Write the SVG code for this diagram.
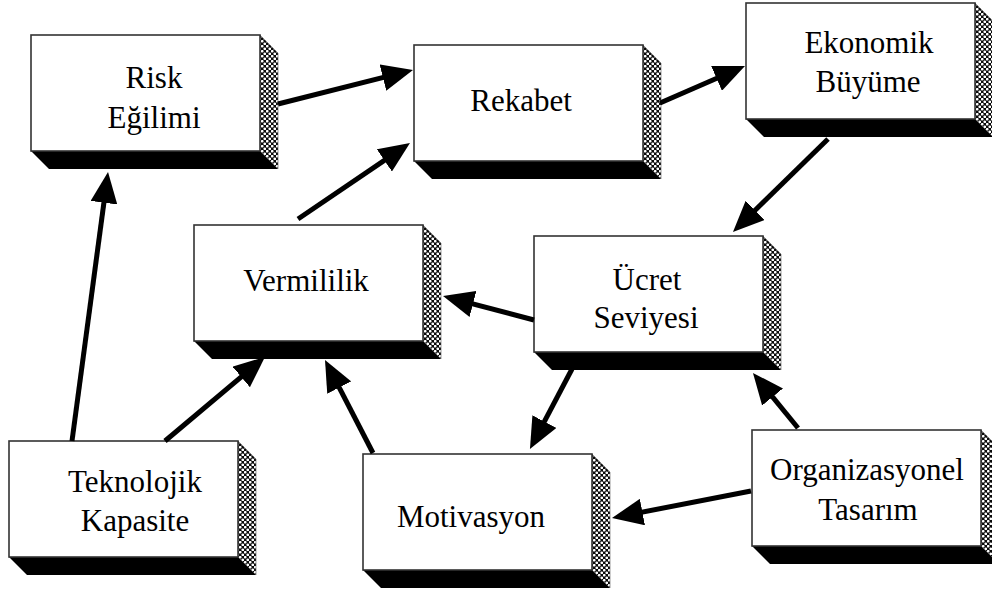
<svg xmlns="http://www.w3.org/2000/svg" xmlns:xlink="http://www.w3.org/1999/xlink" width="992" height="592" viewBox="0 0 992 592">
  <style>
    .face { fill: #ffffff; stroke: #333333; stroke-width: 1.6; }
    .bottom { fill: #000000; }
    .side { fill: url(#dots); stroke: #555555; stroke-width: 0.6; }
    .label { font-family: "Liberation Serif", "Times New Roman", serif; font-size: 31px; fill: #000000; text-anchor: middle; }
    .arrow { stroke: #000000; stroke-width: 5; fill: none; marker-end: url(#head); }
  </style>
  <defs>
    <!-- halftone shading for the right-hand face of the boxes -->
    <pattern id="dots" width="5" height="5" patternUnits="userSpaceOnUse">
      <rect width="5" height="5" fill="#0a0a0a"/>
      <circle cx="1.25" cy="1.25" r="1.35" fill="#ffffff"/>
      <circle cx="3.75" cy="3.75" r="1.35" fill="#ffffff"/>
    </pattern>
    <!-- solid triangular arrowhead -->
    <marker id="head" markerUnits="userSpaceOnUse" markerWidth="31" markerHeight="27" refX="21" refY="13.5" orient="auto" viewBox="0 0 31 27">
      <path d="M0,0 L31,13.5 L0,27 Z" fill="#000000"/>
    </marker>
    <!-- extruded box: front face 229x116, depth 18 -->
    <g id="box3d">
      <polygon class="bottom" points="0,116 229,116 247,134 18,134"/>
      <polygon class="side" points="229,0 247,18 247,134 229,116"/>
      <rect class="face" x="0" y="0" width="229" height="116"/>
    </g>
  </defs>

  <g id="nodes">
    <g id="risk-egilimi">
      <use xlink:href="#box3d" transform="translate(31,35)"/>
      <text class="label" x="154" y="88">Risk</text>
      <text class="label" x="154" y="128">Eğilimi</text>
    </g>
    <g id="rekabet">
      <use xlink:href="#box3d" transform="translate(414,45)"/>
      <text class="label" x="521" y="111">Rekabet</text>
    </g>
    <g id="ekonomik-buyume">
      <use xlink:href="#box3d" transform="translate(746,3)"/>
      <text class="label" x="869" y="53">Ekonomik</text>
      <text class="label" x="868" y="92">Büyüme</text>
    </g>
    <g id="vermililik">
      <use xlink:href="#box3d" transform="translate(194,225)"/>
      <text class="label" x="306" y="291">Vermililik</text>
    </g>
    <g id="ucret-seviyesi">
      <use xlink:href="#box3d" transform="translate(534,236)"/>
      <text class="label" x="647" y="290">Ücret</text>
      <text class="label" x="646" y="328">Seviyesi</text>
    </g>
    <g id="teknolojik-kapasite">
      <use xlink:href="#box3d" transform="translate(9,441)"/>
      <text class="label" x="135" y="492">Teknolojik</text>
      <text class="label" x="135" y="531">Kapasite</text>
    </g>
    <g id="motivasyon">
      <use xlink:href="#box3d" transform="translate(363,454)"/>
      <text class="label" x="471" y="527">Motivasyon</text>
    </g>
    <g id="organizasyonel-tasarim">
      <use xlink:href="#box3d" transform="translate(752,430)"/>
      <text class="label" x="867" y="480">Organizasyonel</text>
      <text class="label" x="868" y="520">Tasarım</text>
    </g>
  </g>

  <g id="connectors">
    <!-- Risk Eğilimi -> Rekabet -->
    <line class="arrow" x1="278" y1="104" x2="403.3" y2="72.4"/>
    <!-- Vermililik -> Rekabet -->
    <line class="arrow" x1="298" y1="219" x2="401.7" y2="148.6"/>
    <!-- Rekabet -> Ekonomik Büyüme -->
    <line class="arrow" x1="660" y1="103" x2="735.8" y2="70.0"/>
    <!-- Ekonomik Büyüme -> Ücret Seviyesi -->
    <line class="arrow" x1="828" y1="139" x2="740.1" y2="225.0"/>
    <!-- Ücret Seviyesi -> Vermililik -->
    <line class="arrow" x1="534" y1="320" x2="452.7" y2="298.6"/>
    <!-- Ücret Seviyesi -> Motivasyon -->
    <line class="arrow" x1="572" y1="369" x2="534.6" y2="440.2"/>
    <!-- Organizasyonel Tasarım -> Ücret Seviyesi -->
    <line class="arrow" x1="798" y1="428" x2="759.3" y2="380.7"/>
    <!-- Organizasyonel Tasarım -> Motivasyon -->
    <line class="arrow" x1="751" y1="491" x2="621.8" y2="516.1"/>
    <!-- Teknolojik Kapasite -> Risk Eğilimi -->
    <line class="arrow" x1="72" y1="441" x2="106.7" y2="181.9"/>
    <!-- Teknolojik Kapasite -> Vermililik -->
    <line class="arrow" x1="165" y1="441" x2="257.3" y2="363.4"/>
    <!-- Motivasyon -> Vermililik -->
    <line class="arrow" x1="373" y1="453" x2="329.6" y2="368.9"/>
  </g>
</svg>
